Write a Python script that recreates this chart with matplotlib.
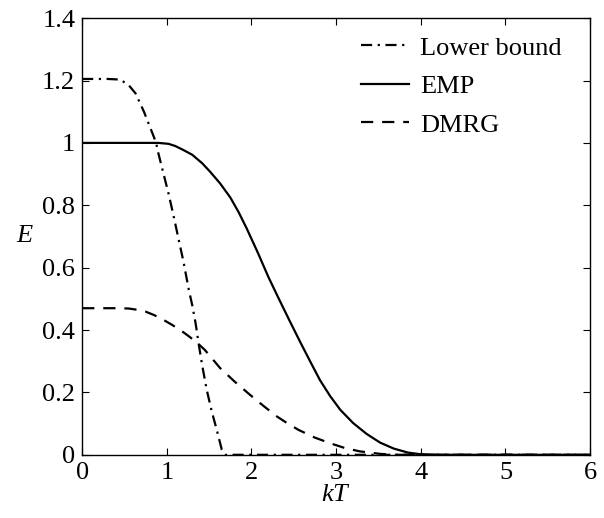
import matplotlib
matplotlib.use("Agg")
import matplotlib.pyplot as plt

plt.rcParams['font.family'] = ['Liberation Serif', 'DejaVu Serif']
plt.rcParams['mathtext.fontset'] = 'custom'
plt.rcParams['mathtext.it'] = 'Liberation Serif:italic'
plt.rcParams['mathtext.rm'] = 'Liberation Serif'

# Lower bound (dash-dot)
lb_x = [0.0, 0.3, 0.45, 0.55, 0.63, 0.73, 0.83, 0.874, 0.90, 0.965, 1.02, 1.08, 1.137, 1.197,
        1.26, 1.30, 1.34, 1.374, 1.417, 1.472, 1.53, 1.59, 1.65, 1.69, 3.0, 6.0]
lb_y = [1.205, 1.205, 1.203, 1.185, 1.159, 1.10, 1.031, 1.0, 0.967, 0.897, 0.838, 0.766, 0.694, 0.619,
        0.529, 0.48, 0.422, 0.36, 0.288, 0.208, 0.14, 0.080, 0.016, 0.0, 0.0, 0.0]

# EMP (solid)
emp_x = [0.0, 0.9, 1.02, 1.1, 1.197, 1.30, 1.417, 1.51, 1.63, 1.75, 1.85, 1.945, 2.08, 2.2, 2.32,
         2.45, 2.575, 2.7, 2.81, 2.93, 3.05, 3.2, 3.36, 3.52, 3.68, 3.85, 3.99, 4.2, 6.0]
emp_y = [1.0, 1.0, 0.997, 0.99, 0.977, 0.962, 0.935, 0.908, 0.87, 0.825, 0.777, 0.725, 0.645, 0.57, 0.502,
         0.43, 0.362, 0.296, 0.239, 0.188, 0.144, 0.102, 0.067, 0.039, 0.020, 0.007, 0.002, 0.0, 0.0]

# DMRG (dashed)
dm_x = [0.0, 0.4, 0.55, 0.65, 0.75, 0.85, 0.945, 1.06, 1.18, 1.27, 1.355, 1.45, 1.54, 1.63, 1.8,
        1.984, 2.15, 2.30, 2.43, 2.555, 2.75, 2.93, 3.1, 3.28, 3.52, 3.7, 6.0]
dm_y = [0.47, 0.47, 0.469, 0.465, 0.459, 0.448, 0.435, 0.417, 0.396, 0.378, 0.36, 0.336, 0.307, 0.278, 0.235,
        0.192, 0.155, 0.123, 0.10, 0.08, 0.055, 0.037, 0.022, 0.011, 0.003, 0.0, 0.0]

fig = plt.figure(figsize=(6.04, 5.18), dpi=100)
ax = fig.add_axes([0.136, 0.122, 0.841, 0.843])

ax.plot(lb_x, lb_y, color='black', lw=1.6, linestyle=(0, (5, 2.5, 1, 2.5)), label='Lower bound')
ax.plot(emp_x, emp_y, color='black', lw=1.6, linestyle='-', label='EMP')
ax.plot(dm_x, dm_y, color='black', lw=1.6, linestyle=(0, (5.5, 4)), label='DMRG')

ax.set_xlim(0, 6)
ax.set_ylim(0, 1.4)
ax.set_xticks([0, 1, 2, 3, 4, 5, 6])
ax.set_yticks([0, 0.2, 0.4, 0.6, 0.8, 1.0, 1.2, 1.4])
ax.set_xticklabels(['0', '1', '2', '3', '4', '5', '6'])
ax.set_yticklabels(['0', '0.2', '0.4', '0.6', '0.8', '1', '1.2', '1.4'])
ax.tick_params(direction='in', top=True, right=True, labelsize=19, length=5, width=0.8, pad=5)
for s in ax.spines.values():
    s.set_linewidth(1.0)

ax.set_xlabel('$kT$', fontsize=19, labelpad=0)
ax.set_ylabel('$E$', fontsize=19, rotation=0, labelpad=12, va='center')

leg = ax.legend(loc='upper right', frameon=False, fontsize=19, handlelength=1.8,
                handletextpad=0.42, labelspacing=0.57, borderaxespad=0.05,
                bbox_to_anchor=(0.967, 0.986))

fig.savefig('out.png', dpi=100)
